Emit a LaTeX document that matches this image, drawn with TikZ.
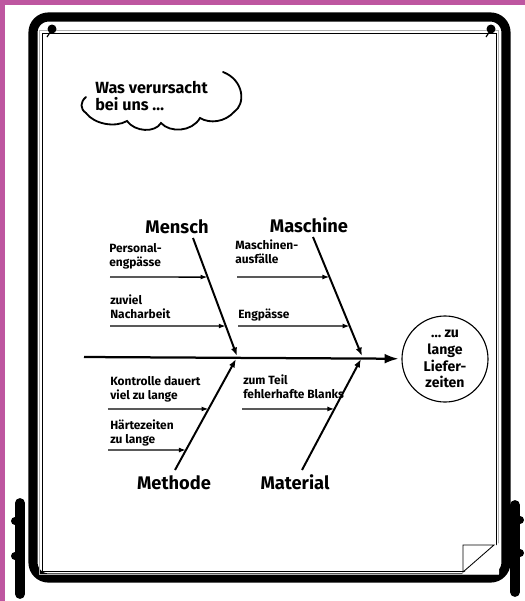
\documentclass[tikz,border=0pt]{standalone}
\usepackage{fontspec}
\setmainfont{Fira Sans}
\usetikzlibrary{arrows.meta,positioning,calc}
\definecolor{randfarbe}{RGB}{190,86,160}
\tikzset{
	bone/.style={line width=1.4pt, -{Latex[length=6pt,width=4.5pt]}},
	rib/.style={line width=1pt, -{Latex[length=5pt,width=3.5pt]}},
	spine/.style={line width=1.6pt, -{Latex[length=10pt,width=7pt]}, shorten >=2pt},
	cause/.style={font=\bfseries\fontsize{13}{15}\selectfont, inner sep=0pt},
	note/.style={font=\bfseries\fontsize{8.5}{10}\selectfont, align=left, anchor=west, inner sep=0pt},
	effect/.style={circle, draw, line width=0.8pt, minimum size=2.15cm, inner sep=0pt, align=center,
		font=\bfseries\fontsize{10}{12}\selectfont},
	stand/.style={line width=7pt, line cap=round}
}
\begin{document}
\begin{tikzpicture}[x=0.025cm, y=-0.025cm]
	\useasboundingbox (0,0) rectangle (525,601);
	\fill[randfarbe] (0,0) rectangle (5,601);
	\fill[randfarbe] (0,0) rectangle (525,5);
	% Staender
	\draw[stand] (20,503) -- (20,594);
	\fill (15,521) circle (4);
	\fill (15,556) circle (4);
	\draw[stand] (515,505) -- (515,592);
	\fill (520,520) circle (4);
	\fill (520,553) circle (4);
	% Tafel
	\draw[line width=6.5pt, rounded corners=11pt] (33,17) rectangle (506,578);
	\draw[gray!60, line width=0.6pt] (39,30) rectangle (498,574);
	\draw[line width=0.7pt] (42,33) rectangle (496,571);
	\fill[white] (462,574) -- (499,574) -- (499,543) -- cycle;
	\draw[line width=0.6pt] (463,572) -- (463,545) -- (494,545) -- cycle;
	\fill (52,29) circle (4.5);
	\draw[line width=0.8pt] (51,31) -- (47,37);
	\fill (491,29) circle (4.5);
	\draw[line width=0.8pt] (490,31) -- (486,37);
	% Wolke
	\node[font=\bfseries\fontsize{11.5}{11.5}\selectfont, align=left, anchor=west, inner sep=0pt]
		(frage) at (95,96) {Was verursacht\\bei uns \dots};
	\draw[line width=1.3pt, line cap=round] (223,72) .. controls (244,80) and (246,104) .. (234,112);
	\draw[line width=1.3pt, line cap=round] (86,97) .. controls (80,102) and (80,109) .. (86,113)
		.. controls (94,124) and (115,128) .. (127,121)
		.. controls (135,132) and (155,133) .. (161,123)
		.. controls (170,133) and (192,132) .. (200,118)
		.. controls (210,124) and (225,122) .. (234,112);
	% Wirkung
	\node[effect] (ziel) at (445,359) {\dots\ zu\\lange\\Liefer-\\zeiten};
	\coordinate (spineL) at (84,357);
	\draw[spine] (spineL) -- (ziel);
	% Hauptursachen
	\node[cause] (mensch) at (177,227) {Mensch};
	\node[cause] (maschine) at (309,225) {Maschine};
	\node[cause] (methode) at (174,483) {Methode};
	\node[cause] (material) at (295,482) {Material};
	\coordinate (mensch-a) at (193,238);
	\coordinate (mensch-b) at (237,356);
	\coordinate (maschine-a) at (313,237);
	\coordinate (maschine-b) at (362,356);
	\coordinate (methode-a) at (175,470);
	\coordinate (methode-b) at (236,359);
	\coordinate (material-a) at (302,470);
	\coordinate (material-b) at (361,359);
	\foreach \k in {mensch,maschine,methode,material}
		\draw[bone] (\k-a) -- (\k-b);
	% Nebenursachen
	\node[note] (pers) at (109,256) {Personal-\\engpässe};
	\node[note] (nach) at (110,307) {zuviel\\Nacharbeit};
	\node[note] (ausf) at (235,252) {Maschinen-\\ausfälle};
	\node[note] (engp) at (238,315) {Engpässe};
	\node[note] (kontr) at (110,389) {Kontrolle dauert\\viel zu lange};
	\node[note] (haert) at (110,433) {Härtezeiten\\zu lange};
	\node[note] (blank) at (243,387) {zum Teil\\fehlerhafte Blanks};
	\coordinate (pers-a) at (110,277);
	\coordinate (pers-b) at ($(mensch-a)!0.331!(mensch-b)$);
	\coordinate (nach-a) at (110,326);
	\coordinate (nach-b) at ($(mensch-a)!0.746!(mensch-b)$);
	\coordinate (ausf-a) at (237,277);
	\coordinate (ausf-b) at ($(maschine-a)!0.336!(maschine-b)$);
	\coordinate (engp-a) at (238,326);
	\coordinate (engp-b) at ($(maschine-a)!0.748!(maschine-b)$);
	\coordinate (kontr-a) at (108,409);
	\coordinate (kontr-b) at ($(methode-a)!0.550!(methode-b)$);
	\coordinate (haert-a) at (108,450);
	\coordinate (haert-b) at ($(methode-a)!0.180!(methode-b)$);
	\coordinate (blank-a) at (242,409);
	\coordinate (blank-b) at ($(material-a)!0.550!(material-b)$);
	\foreach \r in {pers,nach,ausf,engp,kontr,haert,blank}
		\draw[rib] (\r-a) -- (\r-b);
\end{tikzpicture}
\end{document}
